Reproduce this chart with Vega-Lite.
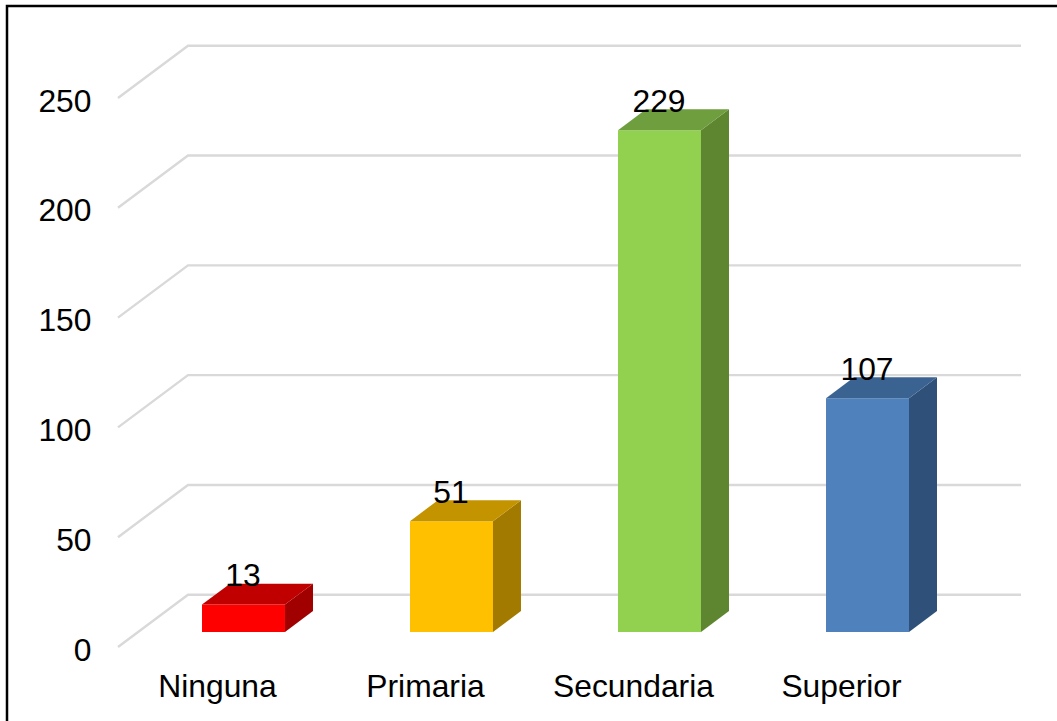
{
"$schema":"https://vega.github.io/schema/vega-lite/v6.json",
"width":1060,"height":725,
"autosize":"none",
"padding":{"left":7,"top":6,"right":0,"bottom":0},
"background":"#ffffff",
"view":{"stroke":"#000000","strokeWidth":2.5,"fill":"#ffffff"},
"config":{"font":"Liberation Sans","text":{"font":"Liberation Sans"}},
"datasets":{
"barras":[
{"categoria":"Ninguna","valor":13},
{"categoria":"Primaria","valor":51},
{"categoria":"Secundaria","valor":229},
{"categoria":"Superior","valor":107}],
"niveles":[{"nivel":0},{"nivel":50},{"nivel":100},{"nivel":150},{"nivel":200},{"nivel":250}]
},
"layer":[
{"data":{"name":"niveles"},
 "transform":[
  {"calculate":"[0,1,2]","as":"t"},{"flatten":["t"]},
  {"calculate":"datum.t==0?-0.4808:(datum.t==1?-0.1442:3.8606)","as":"gx"},
  {"calculate":"datum.nivel+(datum.t==0?0:23.8)","as":"gy"}],
 "mark":{"type":"line","color":"#d9d9d9","strokeWidth":2.4},
 "encoding":{
  "x":{"field":"gx","type":"quantitative","scale":{"domain":[-1.0144,4.0817],"nice":false,"zero":false},
   "axis":{"orient":"bottom","values":[0,1,2,3],"labelExpr":"['Ninguna','Primaria','Secundaria','Superior'][datum.value]","title":null,"grid":false,"domain":false,"ticks":false,"labelPadding":0,"labelOffset":-1,"offset":-60,"labelFontSize":31.8,"labelColor":"#000000","labelFont":"Liberation Sans","labelOverlap":false,"labelBound":false,"labelFlush":false}},
  "y":{"field":"gy","type":"quantitative","scale":{"domain":[-38.25,291.9],"nice":false,"zero":false},
   "axis":{"orient":"left","values":[0,50,100,150,200,250],"title":null,"grid":false,"domain":false,"ticks":false,"labelPadding":0,"labelOffset":3,"offset":-84,"labelFontSize":31.8,"labelColor":"#000000","labelFont":"Liberation Sans","labelOverlap":false,"labelBound":false,"labelFlush":false}},
  "detail":{"field":"nivel"},
  "order":{"field":"t"}}},
{"data":{"name":"barras"},
 "transform":[
  {"calculate":"indexof(['Ninguna','Primaria','Secundaria','Superior'],datum.categoria)","as":"i"},
  {"calculate":"datum.i-0.0769","as":"x0"},
  {"calculate":"datum.i+0.3221","as":"x1"},
  {"calculate":"6.83","as":"base"},
  {"calculate":"datum.valor+6.3","as":"techo"},
  {"calculate":"datum.categoria+' frente'","as":"cara"}],
 "mark":{"type":"rect"},
 "encoding":{
  "x":{"field":"x0","type":"quantitative"},
  "x2":{"field":"x1"},
  "y":{"field":"base","type":"quantitative"},
  "y2":{"field":"techo"},
  "color":{"field":"cara","type":"nominal","legend":null,"scale":{"domain":["Ninguna frente","Primaria frente","Secundaria frente","Superior frente","Ninguna lado","Primaria lado","Secundaria lado","Superior lado","Ninguna tapa","Primaria tapa","Secundaria tapa","Superior tapa"],"range":["#ff0000","#ffc000","#92d050","#4f81bd","#a00000","#a37a00","#5e8530","#2f5078","#c00000","#c49300","#6f9e3e","#3b6391"]}}}},
{"data":{"name":"barras"},
 "transform":[
  {"calculate":"indexof(['Ninguna','Primaria','Secundaria','Superior'],datum.categoria)","as":"i"},
  {"calculate":"[0,1]","as":"t"},{"flatten":["t"]},
  {"calculate":"datum.i+0.3221+datum.t*0.1346","as":"sx"},
  {"calculate":"6.83+datum.t*9.56","as":"s0"},
  {"calculate":"datum.valor+6.3+datum.t*9.56","as":"s1"},
  {"calculate":"datum.categoria+' lado'","as":"cara"}],
 "mark":{"type":"area"},
 "encoding":{
  "x":{"field":"sx","type":"quantitative"},
  "y":{"field":"s1","type":"quantitative"},
  "y2":{"field":"s0"},
  "color":{"field":"cara","type":"nominal","legend":null}}},
{"data":{"name":"barras"},
 "transform":[
  {"calculate":"indexof(['Ninguna','Primaria','Secundaria','Superior'],datum.categoria)","as":"i"},
  {"calculate":"[0,1]","as":"t"},{"flatten":["t"]},
  {"calculate":"datum.i-0.0769+datum.t*0.1346","as":"a0"},
  {"calculate":"datum.i+0.3221+datum.t*0.1346","as":"a1"},
  {"calculate":"datum.valor+6.3+datum.t*9.56","as":"ay"},
  {"calculate":"datum.categoria+' tapa'","as":"cara"}],
 "mark":{"type":"area","orient":"horizontal"},
 "encoding":{
  "y":{"field":"ay","type":"quantitative"},
  "x":{"field":"a1","type":"quantitative"},
  "x2":{"field":"a0"},
  "color":{"field":"cara","type":"nominal","legend":null}}},
{"data":{"name":"barras"},
 "transform":[
  {"calculate":"indexof(['Ninguna','Primaria','Secundaria','Superior'],datum.categoria)","as":"i"},
  {"calculate":"datum.i+0.125","as":"tx"},
  {"calculate":"datum.valor+6.83+13.2","as":"ty"}],
 "mark":{"type":"text","align":"center","baseline":"middle","fontSize":31.8,"font":"Liberation Sans","color":"#000000","dx":-1,"dy":2},
 "encoding":{
  "x":{"field":"tx","type":"quantitative"},
  "y":{"field":"ty","type":"quantitative"},
  "text":{"field":"valor","type":"quantitative"}}}
]}
